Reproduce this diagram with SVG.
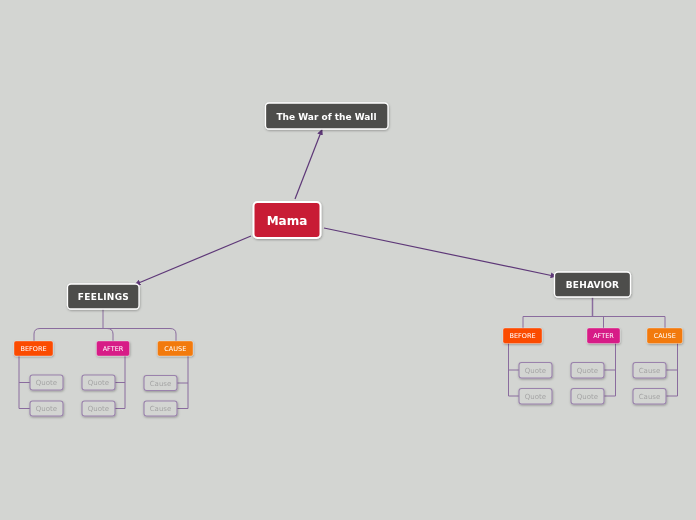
<svg xmlns="http://www.w3.org/2000/svg" width="696" height="520" viewBox="0 0 696 520">
<defs>
<marker id="arr" viewBox="0 0 10 10" refX="9" refY="5" markerWidth="6" markerHeight="6" orient="auto-start-reverse" markerUnits="userSpaceOnUse">
<path d="M0,0 L10,5 L0,10 z" fill="#5e3878"/>
</marker>
<filter id="sh" x="-20%" y="-20%" width="140%" height="160%">
<feDropShadow dx="0.5" dy="1" stdDeviation="0.8" flood-color="#000" flood-opacity="0.3"/>
</filter>
</defs>
<style>
.dark{fill:#4d4d4b;stroke:#ffffff;stroke-width:1.3}
.tt{font-family:"DejaVu Sans",Verdana,sans-serif;font-weight:bold;fill:#ffffff;text-anchor:middle}
.tag{stroke:#ffffff;stroke-width:0.6;stroke-opacity:0.5}
.tagt{font-family:"DejaVu Sans",Verdana,sans-serif;font-size:6.5px;fill:#ffffff;text-anchor:middle}
.leaf{fill:#d3d5d2;stroke:#9a82ac;stroke-width:1.1}
.leaft{font-family:"DejaVu Sans",Verdana,sans-serif;font-size:7px;fill:#a5a5a5;text-anchor:middle}
.main{fill:none;stroke:#5e3878;stroke-width:1.2}
.tree{fill:none;stroke:#8a6c9e;stroke-width:1}
</style>
<rect width="696" height="520" fill="#d3d5d2"/>
<g id="connectors">
<line class="main" x1="295" y1="199" x2="322" y2="129.5" marker-end="url(#arr)"/>
<line class="main" x1="251" y1="236" x2="135" y2="284.5" marker-end="url(#arr)"/>
<line class="main" x1="324" y1="228" x2="556" y2="276.5" marker-end="url(#arr)"/>
<path class="tree" d="M103,309 V328.5"/>
<path class="tree" d="M34,341 V334 Q34,328.5 40,328.5 H170 Q176,328.5 176,334 V341"/>
<path class="tree" d="M113,341 V334 Q113,328.5 107,328.5"/>
<path class="tree" d="M19,356 V408.5 H30 M19,382.5 H30"/>
<path class="tree" d="M125,356 V408.5 H115 M125,382.5 H115"/>
<path class="tree" d="M188,356 V408.5 H177 M188,383 H177"/>
<path class="tree" d="M592.5,297 V316.5" style="stroke-width:1.5"/>
<path class="tree" d="M523,328 V316.5 H665 V328 M603.5,316.5 V328"/>
<path class="tree" d="M508.5,343 V396 H519 M508.5,370 H519"/>
<path class="tree" d="M615.5,343 V396 H604 M615.5,370 H604"/>
<path class="tree" d="M677.5,343 V396 H666 M677.5,370 H666"/>
</g>
<g id="title" filter="url(#sh)">
<rect class="dark" x="265.5" y="103" width="122.5" height="26" rx="3.5"/>
<text class="tt" x="326.5" y="119.5" font-size="9">The War of the Wall</text>
</g>
<g id="mama" filter="url(#sh)">
<rect x="253.5" y="202" width="67" height="36" rx="4" fill="#c81f35" stroke="#ffffff" stroke-width="2"/>
<text class="tt" x="287" y="224.5" font-size="12">Mama</text>
</g>
<g id="feelings" filter="url(#sh)">
<rect class="dark" x="67.5" y="284" width="71.5" height="25" rx="3.5"/>
<text class="tt" x="103.5" y="299.8" font-size="9" letter-spacing="0.3">FEELINGS</text>
</g>
<g id="behavior" filter="url(#sh)">
<rect class="dark" x="554.5" y="272" width="76" height="25" rx="3.5"/>
<text class="tt" x="592.5" y="287.8" font-size="9" letter-spacing="0.2">BEHAVIOR</text>
</g>
<g id="f-before" filter="url(#sh)"><rect class="tag" x="14" y="341" width="39" height="15" rx="2" fill="#fb4c06"/><text class="tagt" x="33.5" y="351">BEFORE</text></g>
<g id="f-after" filter="url(#sh)"><rect class="tag" x="96.5" y="341" width="33" height="15" rx="2" fill="#d71e87"/><text class="tagt" x="113" y="351">AFTER</text></g>
<g id="f-cause" filter="url(#sh)"><rect class="tag" x="157.5" y="341" width="35.5" height="15" rx="2" fill="#f27a0c"/><text class="tagt" x="175.3" y="351">CAUSE</text></g>
<g id="f-before-q1" filter="url(#sh)"><rect class="leaf" x="30" y="375" width="33" height="15" rx="2.5"/><text class="leaft" x="46.5" y="385">Quote</text></g>
<g id="f-before-q2" filter="url(#sh)"><rect class="leaf" x="30" y="401" width="33" height="15" rx="2.5"/><text class="leaft" x="46.5" y="411">Quote</text></g>
<g id="f-after-q1" filter="url(#sh)"><rect class="leaf" x="82" y="375" width="33" height="15" rx="2.5"/><text class="leaft" x="98.5" y="385">Quote</text></g>
<g id="f-after-q2" filter="url(#sh)"><rect class="leaf" x="82" y="401" width="33" height="15" rx="2.5"/><text class="leaft" x="98.5" y="411">Quote</text></g>
<g id="f-cause-c1" filter="url(#sh)"><rect class="leaf" x="144" y="375.5" width="33" height="15" rx="2.5"/><text class="leaft" x="160.5" y="385.5">Cause</text></g>
<g id="f-cause-c2" filter="url(#sh)"><rect class="leaf" x="144" y="401" width="33" height="15" rx="2.5"/><text class="leaft" x="160.5" y="411">Cause</text></g>
<g id="b-before" filter="url(#sh)"><rect class="tag" x="503" y="328" width="39" height="15.5" rx="2" fill="#fb4c06"/><text class="tagt" x="522.5" y="338.3">BEFORE</text></g>
<g id="b-after" filter="url(#sh)"><rect class="tag" x="587" y="328" width="33" height="15.5" rx="2" fill="#d71e87"/><text class="tagt" x="603.5" y="338.3">AFTER</text></g>
<g id="b-cause" filter="url(#sh)"><rect class="tag" x="647" y="328" width="35.5" height="15.5" rx="2" fill="#f27a0c"/><text class="tagt" x="664.8" y="338.3">CAUSE</text></g>
<g id="b-before-q1" filter="url(#sh)"><rect class="leaf" x="519" y="362.5" width="33" height="15.5" rx="2.5"/><text class="leaft" x="535.5" y="372.8">Quote</text></g>
<g id="b-before-q2" filter="url(#sh)"><rect class="leaf" x="519" y="388.5" width="33" height="15.5" rx="2.5"/><text class="leaft" x="535.5" y="398.8">Quote</text></g>
<g id="b-after-q1" filter="url(#sh)"><rect class="leaf" x="571" y="362.5" width="33" height="15.5" rx="2.5"/><text class="leaft" x="587.5" y="372.8">Quote</text></g>
<g id="b-after-q2" filter="url(#sh)"><rect class="leaf" x="571" y="388.5" width="33" height="15.5" rx="2.5"/><text class="leaft" x="587.5" y="398.8">Quote</text></g>
<g id="b-cause-c1" filter="url(#sh)"><rect class="leaf" x="633" y="362.5" width="33" height="15.5" rx="2.5"/><text class="leaft" x="649.5" y="372.8">Cause</text></g>
<g id="b-cause-c2" filter="url(#sh)"><rect class="leaf" x="633" y="388.5" width="33" height="15.5" rx="2.5"/><text class="leaft" x="649.5" y="398.8">Cause</text></g>
</svg>
